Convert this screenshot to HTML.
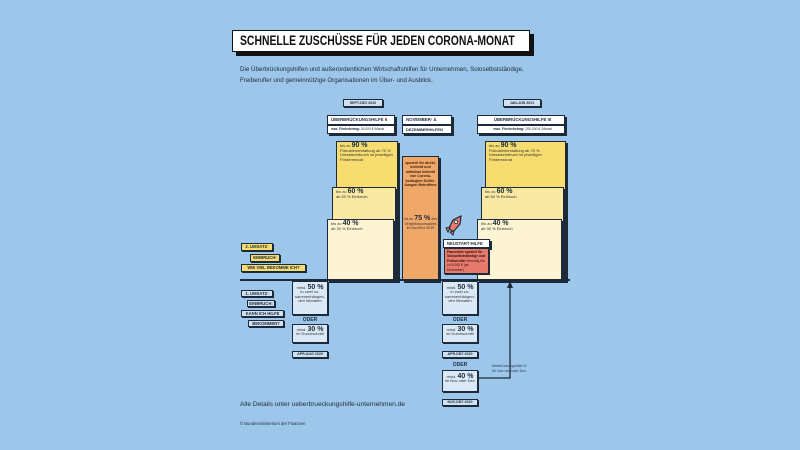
<!DOCTYPE html><html><head><meta charset="utf-8"><style>
*{margin:0;padding:0;box-sizing:border-box}
body{width:800px;height:450px;background:#9dc7ea;position:relative;overflow:hidden;font-family:"Liberation Sans",sans-serif;color:#1d2a3a}
.a{position:absolute;white-space:nowrap}
.b{position:absolute;border:1px solid #1d2a3a;box-shadow:2px 2px 0 #1d2a3a}
.t{font-size:4px;line-height:4.6px;padding:2px 3px;color:#333}
.t b{font-size:7px;color:#1d2a3a}
.tag{position:absolute;border:1px solid #1d2a3a;background:#cfe1f3;box-shadow:1px 1px 0 #1d2a3a;font-size:3.6px;font-weight:bold;text-align:center;line-height:6px;white-space:nowrap;overflow:hidden}
.lb{position:absolute;border:1px solid #1d2a3a;box-shadow:1px 1px 0 #1d2a3a;font-size:4.2px;font-weight:bold;text-align:center;line-height:6px;white-space:nowrap}
.h{position:absolute;background:#fff;border:1px solid #1d2a3a;box-shadow:2px 2px 0 #1d2a3a;font-size:4.3px;font-weight:bold;padding-left:3px;line-height:8px;white-space:nowrap;overflow:hidden}
.c{font-size:4px;text-align:center;color:#333;line-height:4.4px}
.c b{font-size:7px;color:#1d2a3a}
.od{position:absolute;font-size:5px;font-weight:bold;width:36px;text-align:center}
</style></head><body>
<div class="a" style="left:232px;top:30px;width:298px;height:22px;background:#fff;border:1.5px solid #111;box-shadow:4px 4px 0 #111;font-size:13.5px;font-weight:bold;line-height:19px;padding-left:7px;color:#111;overflow:hidden"><span style="display:inline-block;transform:scaleX(0.77);transform-origin:0 50%">SCHNELLE ZUSCHÜSSE FÜR JEDEN CORONA-MONAT</span></div>
<div class="a" style="left:240px;top:64px;font-size:6.2px;line-height:11px">Die Überbrückungshilfen und außerordentlichen Wirtschaftshilfen für Unternehmen, Soloselbstständige,<br>Freiberufler und gemeinnützige Organisationen im Über- und Ausblick.</div>

<div class="tag" style="left:343px;top:99px;width:40px;height:8px">SEPT-DEZ 2020</div>
<div class="tag" style="left:503px;top:99px;width:38px;height:8px">JAN-JUN 2021</div>

<div class="h" style="left:327px;top:115px;width:68px;height:10px">ÜBERBRÜCKUNGSHILFE II</div>
<div class="h" style="left:327px;top:125px;width:68px;height:9px;font-size:3.2px;font-weight:normal;line-height:7px"><b>max. Förderbetrag:</b> 50.000 € /Monat</div>
<div class="h" style="left:402px;top:115px;width:50px;height:10px">NOVEMBER- &amp;</div>
<div class="h" style="left:402px;top:125px;width:50px;height:9px;line-height:7px;font-size:4px">DEZEMBERHILFEN</div>
<div class="h" style="left:477px;top:115px;width:88px;height:10px;text-align:center">ÜBERBRÜCKUNGSHILFE III</div>
<div class="h" style="left:477px;top:125px;width:88px;height:9px;font-size:3.4px;font-weight:normal;line-height:7px;text-align:center"><b>max. Förderbetrag:</b> 200.000 € /Monat</div>

<div class="b t" style="left:336px;top:141px;width:62px;height:140px;background:#f7dc6f">bis zu <b>90 %</b><br>Fixkostenerstattung ab 70 %<br>Umsatzeinbruch im jeweiligen<br>Fördermonat</div>
<div class="b t" style="left:332px;top:187px;width:64px;height:94px;background:#f9e9a3">bis zu <b>60 %</b><br>ab 50 % Einbruch</div>
<div class="b t" style="left:327px;top:219px;width:67px;height:62px;background:#fdf4d4">bis zu <b>40 %</b><br>ab 30 % Einbruch</div>

<div class="b" style="left:402px;top:156px;width:37px;height:125px;background:#f0a868"><div class="c" style="margin-top:4px;font-weight:bold;color:#402010;font-size:3.6px">speziell für direkt,<br>indirekt und<br>mittelbar indirekt<br>von Corona-<br>bedingten Schlie-<br>ßungen Betroffene</div><div class="c" style="margin-top:30px;font-size:3.6px">bis zu <b>75 %</b> des<br>Vergleichsumsatzes<br>im Nov/Dez 2019</div></div>

<div class="b t" style="left:485px;top:141px;width:81px;height:140px;background:#f7dc6f">bis zu <b>90 %</b><br>Fixkostenerstattung ab 70 %<br>Umsatzeinbruch im jeweiligen<br>Fördermonat</div>
<div class="b t" style="left:481px;top:187px;width:83px;height:94px;background:#f9e9a3">bis zu <b>60 %</b><br>ab 50 % Einbruch</div>
<div class="b t" style="left:477px;top:219px;width:85px;height:62px;background:#fdf4d4">bis zu <b>40 %</b><br>ab 30 % Einbruch</div>

<svg class="a" style="left:444px;top:214px" width="20" height="24" viewBox="0 0 20 24"><path d="M17 2 L9 6 L5 14 L9 18 L16 10 Z" fill="#e87a6c" stroke="#1d2a3a" stroke-width="1.2"/><circle cx="12" cy="8" r="1.6" fill="#fff" stroke="#1d2a3a" stroke-width=".8"/><path d="M6 13 L2 14 L4 18 Z M10 17 L9 21 L6 18 Z" fill="#e87a6c" stroke="#1d2a3a" stroke-width="1"/></svg>
<div class="h" style="left:443px;top:239px;width:47px;height:9px;font-size:4.2px;line-height:7px">NEUSTART-HILFE</div>
<div class="b" style="left:444px;top:248px;width:45px;height:26px;background:#e87a6c;box-shadow:1px 1px 0 #1d2a3a;font-size:3.4px;line-height:4.4px;padding:1px 2px;color:#2a1010"><b>Pauschale speziell für Soloselbstständige und Freiberufler</b> einmalig bis zu 5.000 € (ab Dezember)</div>

<div class="a" style="left:240px;top:279px;width:330px;height:2px;background:#1d2a3a"></div>

<div class="lb" style="left:241px;top:243px;width:32px;height:8px;background:#f7dc6f">2. UMSATZ-</div>
<div class="lb" style="left:250px;top:254px;width:30px;height:8px;background:#f7dc6f">EINBRUCH:</div>
<div class="lb" style="left:241px;top:264px;width:65px;height:8px;background:#f7dc6f">WIE VIEL BEKOMME ICH?</div>

<div class="lb" style="left:241px;top:290px;width:32px;height:7px;background:#cfe1f3;line-height:5px">1. UMSATZ-</div>
<div class="lb" style="left:247px;top:300px;width:28px;height:7px;background:#cfe1f3;line-height:5px">EINBRUCH:</div>
<div class="lb" style="left:241px;top:310px;width:43px;height:7px;background:#cfe1f3;line-height:5px">KANN ICH HILFE</div>
<div class="lb" style="left:248px;top:320px;width:36px;height:7px;background:#cfe1f3;line-height:5px">BEKOMMEN?</div>

<div class="b" style="left:292px;top:281px;width:36px;height:34px;background:#dbe9f6;box-shadow:1px 1px 0 #1d2a3a"><div class="c" style="margin-top:4px">mind. <b>50 %</b><br>in zwei zu-<br>sammenhängen-<br>den Monaten</div></div>
<div class="od" style="left:292px;top:317px">ODER</div>
<div class="b" style="left:292px;top:324px;width:36px;height:19px;background:#dbe9f6;box-shadow:1px 1px 0 #1d2a3a"><div class="c" style="margin-top:3px">mind. <b>30 %</b><br>im Durchschnitt</div></div>
<div class="tag" style="left:292px;top:351px;width:36px;height:7px;line-height:5px">APR-AUG 2020</div>

<div class="b" style="left:442px;top:281px;width:36px;height:34px;background:#dbe9f6;box-shadow:1px 1px 0 #1d2a3a"><div class="c" style="margin-top:4px">mind. <b>50 %</b><br>in zwei zu-<br>sammenhängen-<br>den Monaten</div></div>
<div class="od" style="left:442px;top:317px">ODER</div>
<div class="b" style="left:442px;top:324px;width:36px;height:19px;background:#dbe9f6;box-shadow:1px 1px 0 #1d2a3a"><div class="c" style="margin-top:3px">mind. <b>30 %</b><br>im Durchschnitt</div></div>
<div class="tag" style="left:442px;top:351px;width:36px;height:7px;line-height:5px">APR-DEZ 2020</div>
<div class="od" style="left:442px;top:362px">ODER</div>
<div class="b" style="left:442px;top:370px;width:36px;height:22px;background:#dbe9f6;box-shadow:1px 1px 0 #1d2a3a"><div class="c" style="margin-top:4px">mind. <b>40 %</b><br>im Nov oder Dez</div></div>
<div class="tag" style="left:442px;top:399px;width:36px;height:7px;line-height:5px">NOV-DEZ 2020</div>

<svg class="a" style="left:478px;top:280px" width="40" height="102"><path d="M0 98 H32 V4" fill="none" stroke="#1d2a3a" stroke-width="1.3"/><path d="M29 8 L32 1 L35 8 Z" fill="#1d2a3a"/></svg>
<div class="a" style="left:488px;top:364px;width:42px;font-size:3.6px;line-height:4.5px;text-align:center;color:#2a3a55">Überbrückungshilfe III<br>für Nov und/oder Dez</div>

<div class="a" style="left:240px;top:401px;font-size:6.6px">Alle Details unter ueberbrueckungshilfe-unternehmen.de</div>
<div class="a" style="left:240px;top:421px;font-size:4.2px">© Bundesministerium der Finanzen</div>
</body></html>
